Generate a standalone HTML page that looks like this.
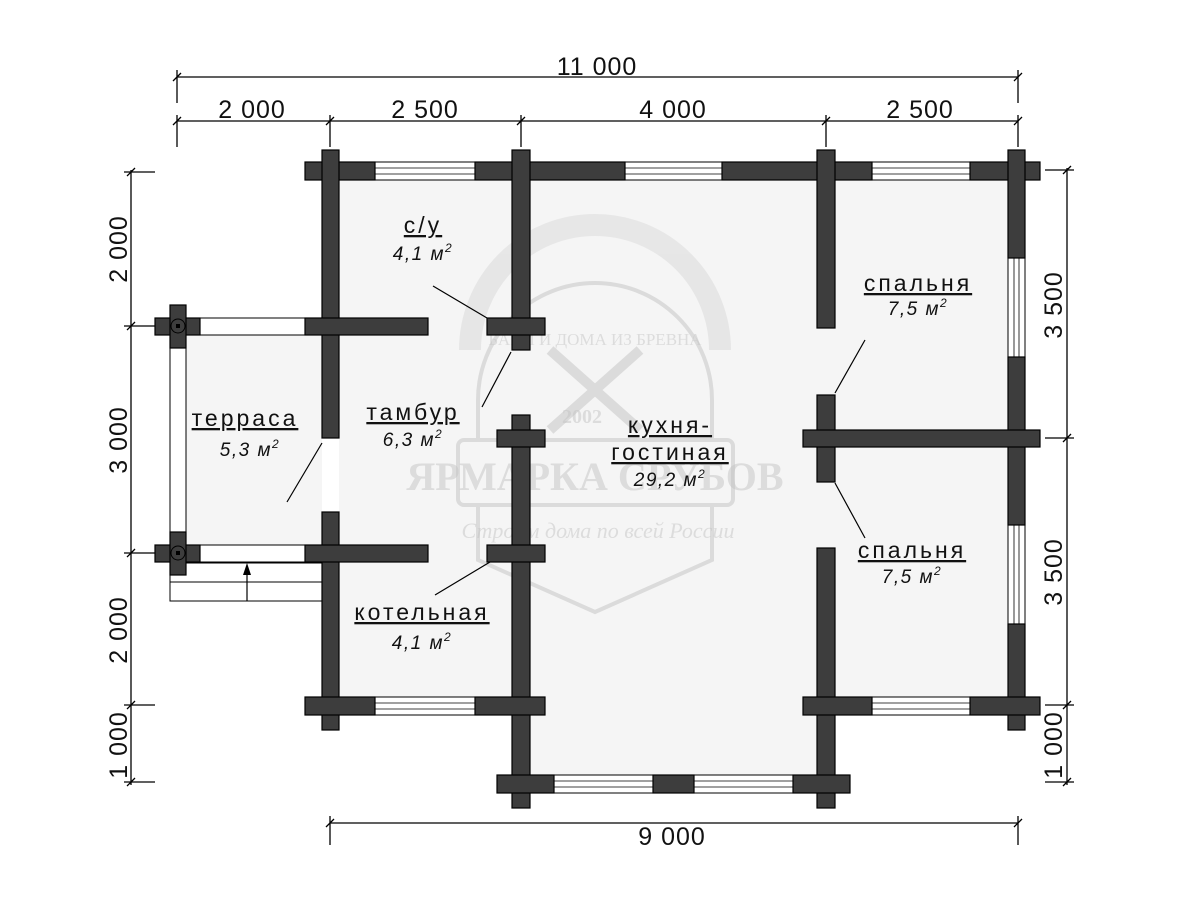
<!DOCTYPE html>
<html><head><meta charset="utf-8"><style>
html,body{margin:0;padding:0;background:#fff;}
svg{display:block;}
.t{font-family:"Liberation Sans","DejaVu Sans",sans-serif;fill:#111;}
.w{fill:#3d3d3d;stroke:#000;stroke-width:1.2;}
.win{fill:#fff;stroke:#000;stroke-width:1;}
.d{stroke:#000;stroke-width:1.3;fill:none;}
.nm{font-size:23px;letter-spacing:3px;text-decoration:underline;}
.ar{font-size:19px;font-style:italic;letter-spacing:1.5px;}
</style></head><body>
<svg width="1200" height="900" viewBox="0 0 1200 900" xmlns="http://www.w3.org/2000/svg">
<g fill="#f5f5f5">
<rect x="186" y="335" width="136" height="210"/>
<rect x="339" y="180" width="669" height="517"/>
<rect x="530" y="697" width="287" height="78"/>
</g>
<g opacity="0.45" fill="none" stroke="#bdbdbd" stroke-width="4">
<path d="M478,440 L478,400 A117,117 0 0 1 712,400 L712,440"/>
<path d="M478,505 L478,560 L595,612 L712,560 L712,505"/>
<rect x="458" y="440" width="275" height="65" rx="6"/>
<path d="M470,350 A125,125 0 0 1 720,350" stroke-width="22" stroke="#d6d6d6"/>
<path d="M550,350 L640,430 M640,350 L550,430" stroke-width="10"/>
</g>
<g opacity="0.5" fill="#c4c4c4" font-family="Liberation Serif,serif">
<text x="595" y="490" font-size="40" text-anchor="middle" font-weight="bold">ЯРМАРКА СРУБОВ</text>
<text x="598" y="538" font-size="22" text-anchor="middle" font-style="italic">Строим дома по всей России</text>
<text x="582" y="423" font-size="20" text-anchor="middle" font-weight="bold">2002</text>
<text x="595" y="345" font-size="17" text-anchor="middle">БАНИ И ДОМА ИЗ БРЕВНА</text>
</g>
<g class="win">
<rect x="375" y="162" width="100" height="18"/><rect x="625" y="162" width="97" height="18"/><rect x="872" y="162" width="98" height="18"/>
<rect x="375" y="697" width="100" height="18"/><rect x="872" y="697" width="98" height="18"/>
<rect x="554" y="775" width="99" height="18"/><rect x="694" y="775" width="99" height="18"/>
<rect x="1008" y="258" width="17" height="99"/><rect x="1008" y="525" width="17" height="99"/>
</g>
<g stroke="#000" stroke-width="0.8">
<line x1="375" y1="168" x2="475" y2="168"/><line x1="375" y1="174" x2="475" y2="174"/>
<line x1="625" y1="168" x2="722" y2="168"/><line x1="625" y1="174" x2="722" y2="174"/>
<line x1="872" y1="168" x2="970" y2="168"/><line x1="872" y1="174" x2="970" y2="174"/>
<line x1="375" y1="703" x2="475" y2="703"/><line x1="375" y1="709" x2="475" y2="709"/>
<line x1="872" y1="703" x2="970" y2="703"/><line x1="872" y1="709" x2="970" y2="709"/>
<line x1="554" y1="781" x2="653" y2="781"/><line x1="554" y1="787" x2="653" y2="787"/>
<line x1="694" y1="781" x2="793" y2="781"/><line x1="694" y1="787" x2="793" y2="787"/>
<line x1="1014" y1="258" x2="1014" y2="357"/><line x1="1019" y1="258" x2="1019" y2="357"/>
<line x1="1014" y1="525" x2="1014" y2="624"/><line x1="1019" y1="525" x2="1019" y2="624"/>
</g>
<g class="win">
<rect x="200" y="318" width="105" height="17"/>
<rect x="170" y="345" width="16" height="198"/>
<rect x="200" y="545" width="105" height="17"/>
<rect x="170" y="563" width="152" height="19"/>
<rect x="170" y="582" width="152" height="19"/>
</g>
<line x1="247" y1="601" x2="247" y2="570" stroke="#000" stroke-width="1.2"/>
<polygon points="247,563 243,575 251,575" fill="#000"/>
<g class="w">
<rect x="305" y="162" width="70" height="18"/><rect x="475" y="162" width="150" height="18"/>
<rect x="722" y="162" width="150" height="18"/><rect x="970" y="162" width="70" height="18"/>
<rect x="322" y="150" width="17" height="288"/><rect x="322" y="512" width="17" height="218"/>
<rect x="512" y="150" width="18" height="200"/><rect x="512" y="415" width="18" height="393"/>
<rect x="817" y="150" width="18" height="178"/><rect x="817" y="395" width="18" height="87"/><rect x="817" y="548" width="18" height="260"/>
<rect x="1008" y="150" width="17" height="108"/><rect x="1008" y="357" width="17" height="168"/><rect x="1008" y="624" width="17" height="106"/>
<rect x="305" y="318" width="123" height="17"/><rect x="487" y="318" width="58" height="17"/>
<rect x="497" y="430" width="48" height="17"/><rect x="803" y="430" width="237" height="17"/>
<rect x="305" y="545" width="123" height="17"/><rect x="487" y="545" width="58" height="17"/>
<rect x="305" y="697" width="70" height="18"/><rect x="475" y="697" width="70" height="18"/>
<rect x="803" y="697" width="69" height="18"/><rect x="970" y="697" width="70" height="18"/>
<rect x="497" y="775" width="57" height="18"/><rect x="653" y="775" width="41" height="18"/><rect x="793" y="775" width="57" height="18"/>
<rect x="155" y="318" width="45" height="17"/><rect x="170" y="305" width="16" height="43"/>
<rect x="155" y="545" width="45" height="17"/><rect x="170" y="532" width="16" height="43"/>
</g>
<g fill="#3d3d3d" stroke="none">
<rect x="323" y="163" width="15" height="16"/><rect x="513" y="163" width="16" height="16"/><rect x="818" y="163" width="16" height="16"/><rect x="1009" y="163" width="15" height="16"/>
<rect x="323" y="319" width="15" height="15"/><rect x="323" y="546" width="15" height="15"/><rect x="513" y="319" width="16" height="15"/><rect x="513" y="431" width="16" height="15"/><rect x="513" y="546" width="16" height="15"/>
<rect x="818" y="431" width="16" height="15"/><rect x="1009" y="431" width="15" height="15"/>
<rect x="323" y="698" width="15" height="16"/><rect x="513" y="698" width="16" height="16"/><rect x="818" y="698" width="16" height="16"/><rect x="1009" y="698" width="15" height="16"/>
<rect x="513" y="776" width="16" height="16"/><rect x="818" y="776" width="16" height="16"/>
<rect x="171" y="319" width="14" height="15"/><rect x="171" y="546" width="14" height="15"/>
</g>
<g fill="none" stroke="#000" stroke-width="1"><circle cx="178" cy="326" r="7"/><circle cx="178" cy="553" r="7"/></g>
<rect x="176" y="324" width="4" height="4" fill="#000"/><rect x="176" y="551" width="4" height="4" fill="#000"/>
<g stroke="#000" stroke-width="1.2">
<line x1="433" y1="286" x2="487" y2="318"/>
<line x1="511" y1="352" x2="482" y2="407"/>
<line x1="322" y1="443" x2="287" y2="502"/>
<line x1="490" y1="562" x2="435" y2="595"/>
<line x1="835" y1="393" x2="865" y2="340"/>
<line x1="835" y1="483" x2="865" y2="538"/>
</g>
<g class="d">
<line x1="177" y1="77" x2="1018" y2="77"/>
<line x1="177" y1="121" x2="1018" y2="121"/>
<line x1="177" y1="70" x2="177" y2="103"/><line x1="1018" y1="70" x2="1018" y2="103"/>
<line x1="177" y1="115" x2="177" y2="147"/><line x1="330" y1="115" x2="330" y2="147"/><line x1="521" y1="115" x2="521" y2="147"/><line x1="826" y1="115" x2="826" y2="147"/><line x1="1018" y1="115" x2="1018" y2="147"/>
<line x1="131" y1="170" x2="131" y2="785"/>
<line x1="124" y1="172" x2="155" y2="172"/><line x1="124" y1="326" x2="155" y2="326"/><line x1="124" y1="553" x2="155" y2="553"/><line x1="124" y1="705" x2="155" y2="705"/><line x1="124" y1="782" x2="155" y2="782"/>
<line x1="1067" y1="168" x2="1067" y2="785"/>
<line x1="1045" y1="170" x2="1074" y2="170"/><line x1="1045" y1="438" x2="1074" y2="438"/><line x1="1045" y1="705" x2="1074" y2="705"/><line x1="1045" y1="782" x2="1074" y2="782"/>
<line x1="330" y1="823" x2="1018" y2="823"/>
<line x1="330" y1="816" x2="330" y2="845"/><line x1="1018" y1="816" x2="1018" y2="845"/>
</g>
<g stroke="#000" stroke-width="1.3">
<path d="M173,81 L181,73 M1014,81 L1022,73 M173,125 L181,117 M326,125 L334,117 M517,125 L525,117 M822,125 L830,117 M1014,125 L1022,117 M127,176 L135,168 M127,330 L135,322 M127,557 L135,549 M127,709 L135,701 M127,786 L135,778 M1063,174 L1071,166 M1063,442 L1071,434 M1063,709 L1071,701 M1063,786 L1071,778 M326,827 L334,819 M1014,827 L1022,819"/>
</g>
<g class="t" font-size="25" text-anchor="middle" letter-spacing="1">
<text x="597" y="75">11 000</text>
<text x="252" y="118">2 000</text><text x="425" y="118">2 500</text><text x="673" y="118">4 000</text><text x="920" y="118">2 500</text>
<text x="672" y="845">9 000</text>
<text transform="translate(127,249) rotate(-90)">2 000</text>
<text transform="translate(127,440) rotate(-90)">3 000</text>
<text transform="translate(127,630) rotate(-90)">2 000</text>
<text transform="translate(127,745) rotate(-90)">1 000</text>
<text transform="translate(1062,305) rotate(-90)">3 500</text>
<text transform="translate(1062,572) rotate(-90)">3 500</text>
<text transform="translate(1062,745) rotate(-90)">1 000</text>
</g>
<g class="t" text-anchor="middle">
<text class="nm" x="423" y="233">с/у</text><text class="ar" x="423" y="260">4,1 м<tspan font-size="12" dy="-8">2</tspan></text>
<text class="nm" x="413" y="420">тамбур</text><text class="ar" x="413" y="446">6,3 м<tspan font-size="12" dy="-8">2</tspan></text>
<text class="nm" x="245" y="426">терраса</text><text class="ar" x="250" y="456">5,3 м<tspan font-size="12" dy="-8">2</tspan></text>
<text class="nm" x="422" y="620">котельная</text><text class="ar" x="422" y="649">4,1 м<tspan font-size="12" dy="-8">2</tspan></text>
<text class="nm" x="670" y="433">кухня-</text><text class="nm" x="670" y="460">гостиная</text><text class="ar" x="670" y="486">29,2 м<tspan font-size="12" dy="-8">2</tspan></text>
<text class="nm" x="918" y="291">спальня</text><text class="ar" x="918" y="315">7,5 м<tspan font-size="12" dy="-8">2</tspan></text>
<text class="nm" x="912" y="558">спальня</text><text class="ar" x="912" y="583">7,5 м<tspan font-size="12" dy="-8">2</tspan></text>
</g>
</svg>
</body></html>
